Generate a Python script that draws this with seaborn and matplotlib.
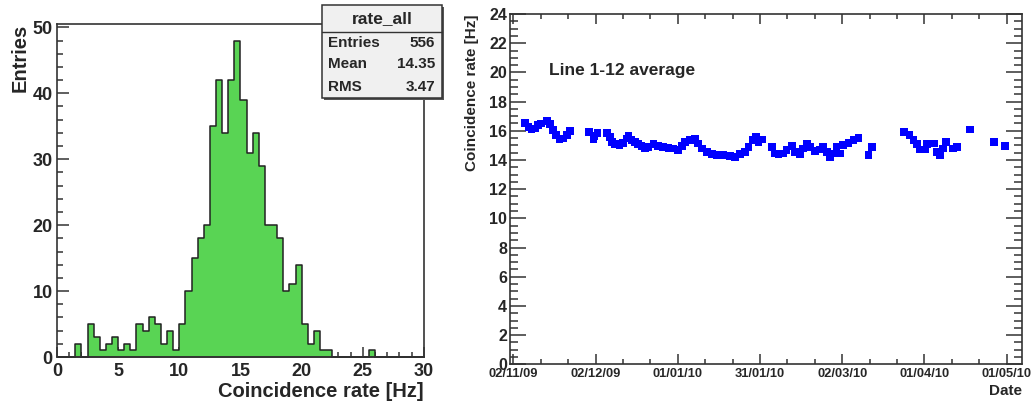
import matplotlib
matplotlib.use("Agg")
import matplotlib.dates as mdates
import pandas as pd
import seaborn as sns
from matplotlib import pyplot as plt
from matplotlib.patches import Rectangle
from matplotlib.ticker import MultipleLocator

# histogram of coincidence rate, 0.5 Hz bins from 0 to 30 Hz
bin_edges = [0.5 * k for k in range(61)]
rate_counts = [
    0, 0, 0, 2, 0, 5, 3, 1, 2, 3,
    1, 2, 1, 5, 4, 6, 5, 2, 4, 1,
    5, 10, 15, 18, 20, 35, 42, 34, 42, 48,
    39, 31, 34, 29, 20, 20, 18, 10, 11, 14,
    5, 2, 4, 1, 1, 0, 0, 0, 0, 0,
    0, 1, 0, 0, 0, 0, 0, 0, 0, 0,
]
stats_rows = [("Entries", "556"), ("Mean", "14.35"), ("RMS", "3.47")]

# daily averages, days counted from 02/11/09
start_date = "2009-11-02"
day_offset = [
    4.3, 5.5, 6.7, 7.9, 9.1, 10.0, 12.4, 13.4, 14.4, 15.6, 16.8, 18.2, 19.5, 20.7,
    27.7, 29.2, 29.5, 30.7, 34.1, 35.3, 36.0, 37.1, 38.7, 40.1, 41.4, 42.0, 43.2,
    44.4, 45.6, 46.8, 48.1, 49.3, 51.1, 52.9, 54.7, 56.6, 58.4, 60.2, 61.5, 62.7,
    64.5, 66.3, 67.5, 68.8, 70.6, 72.4, 74.2, 76.6, 79.1, 80.9, 82.7, 84.5, 85.8,
    87.4, 88.6, 89.5, 90.7, 94.3, 95.5, 96.7, 98.5, 99.7, 101.6, 102.8, 104.6,
    105.8, 107.1, 108.3, 110.1, 111.9, 113.1, 114.4, 115.6, 116.8, 118.0, 119.2,
    120.4, 122.3, 124.1, 125.9, 129.6, 130.8, 142.6, 144.5, 146.0, 147.2, 148.4,
    150.3, 150.9, 153.5, 154.7, 155.7, 156.7, 157.9, 160.4, 161.8, 166.7, 175.4,
    179.5,
]
daily_rate = [
    16.55, 16.27, 16.09, 16.16, 16.39, 16.5, 16.69, 16.46, 16.05, 15.7, 15.4, 15.47, 15.7, 16.0,
    15.9, 15.4, 15.65, 15.85, 15.86, 15.59, 15.25, 15.09, 15.02, 15.18, 15.48, 15.64, 15.36,
    15.25, 15.09, 14.95, 14.79, 14.9, 15.09, 14.95, 14.9, 14.84, 14.79, 14.68, 14.95, 15.25,
    15.36, 15.48, 15.14, 14.79, 14.56, 14.4, 14.34, 14.34, 14.27, 14.22, 14.4, 14.56, 14.9,
    15.36, 15.59, 15.25, 15.4, 14.9, 14.45, 14.4, 14.45, 14.68, 14.95, 14.56, 14.4,
    14.79, 15.09, 14.9, 14.63, 14.72, 14.9, 14.56, 14.22, 14.45, 14.9, 14.45,
    15.02, 15.18, 15.36, 15.52, 14.34, 14.9, 15.93, 15.7, 15.36, 15.09, 14.72,
    14.72, 15.09, 15.14, 14.56, 14.34, 14.79, 15.25, 14.79, 14.9, 16.1, 15.25,
    14.95,
]

sns.set_style("ticks")
plt.rcParams["font.family"] = ["Liberation Sans", "DejaVu Sans"]
plt.rcParams["font.weight"] = "bold"
plt.rcParams["axes.edgecolor"] = "#333333"
plt.rcParams["axes.linewidth"] = 1.2

fig = plt.figure(figsize=(10.32, 4.05), dpi=100)
ax_h = fig.add_axes([0.0552, 0.1185, 0.3556, 0.8222])
ax_t = fig.add_axes([0.4942, 0.1005, 0.4958, 0.8649])

# ---- left: histogram
centers = [e + 0.25 for e in bin_edges[:-1]]
hist_df = pd.DataFrame({"rate": centers, "n": rate_counts})
sns.histplot(data=hist_df, x="rate", weights="n", bins=bin_edges, element="step",
             fill=True, color="#59d454", alpha=1.0, edgecolor="#222222",
             linewidth=1.1, ax=ax_h)
ax_h.set_xlim(0, 30)
ax_h.set_ylim(0, 50.5)
ax_h.xaxis.set_major_locator(MultipleLocator(5))
ax_h.xaxis.set_minor_locator(MultipleLocator(1))
ax_h.yaxis.set_major_locator(MultipleLocator(10))
ax_h.yaxis.set_minor_locator(MultipleLocator(2))
ax_h.tick_params(axis="both", which="both", direction="in", labelsize=13,
                 color="#333333", width=1.1)
ax_h.tick_params(axis="y", which="major", length=8.5, pad=3)
ax_h.tick_params(axis="y", which="minor", length=4.3)
ax_h.tick_params(axis="x", which="major", length=7.5, pad=4)
ax_h.tick_params(axis="x", which="minor", length=3.8)
for lab in ax_h.get_xticklabels() + ax_h.get_yticklabels():
    lab.set_fontweight("bold")
ax_h.set_xlabel("Coincidence rate [Hz]", fontsize=14.5, fontweight="bold", loc="right")
ax_h.set_ylabel("Entries", fontsize=14.5, fontweight="bold", loc="top")
ax_h.xaxis.set_label_coords(1.0, -0.075)
ax_h.yaxis.set_label_coords(-0.074, 1.0)

# stats box
shadow = Rectangle((0.3140, 0.7530), 0.1163, 0.2296, transform=fig.transFigure,
                   facecolor="#555555", edgecolor="none", zorder=9)
box = Rectangle((0.3120, 0.7580), 0.1163, 0.2296, transform=fig.transFigure,
                facecolor="#f0f0f0", edgecolor="#333333", linewidth=1.1, zorder=10)
fig.add_artist(shadow)
fig.add_artist(box)
fig.add_artist(plt.Line2D([0.3120, 0.4283], [0.921, 0.921], transform=fig.transFigure,
                          color="#333333", linewidth=1.0, zorder=11))
fig.text(0.3702, 0.953, "rate_all", ha="center", va="center", fontsize=12.5,
         fontweight="bold", zorder=12)
for (name, val), yy in zip(stats_rows, [0.895, 0.841, 0.784]):
    fig.text(0.318, yy, name, ha="left", va="center", fontsize=11,
             fontweight="bold", zorder=12)
    fig.text(0.4215, yy, val, ha="right", va="center", fontsize=11,
             fontweight="bold", zorder=12)

# ---- right: time series
ts_df = pd.DataFrame({
    "date": pd.Timestamp(start_date) + pd.to_timedelta(day_offset, unit="D"),
    "rate": daily_rate,
})
sns.scatterplot(data=ts_df, x="date", y="rate", marker="s", s=30, color="#0000ff",
                edgecolor="none", linewidth=0, ax=ax_t)
t0 = pd.Timestamp(start_date)
ax_t.set_xlim(t0 - pd.Timedelta(days=1.2), t0 + pd.Timedelta(days=185.5))
ax_t.set_ylim(0, 24)
major_dates = [t0 + pd.Timedelta(days=30 * k) for k in range(7)]
minor_dates = [t0 + pd.Timedelta(days=10 * k) for k in range(19)]
ax_t.set_xticks(major_dates)
ax_t.set_xticks(minor_dates, minor=True)
ax_t.xaxis.set_major_formatter(mdates.DateFormatter("%d/%m/%y"))
ax_t.yaxis.set_major_locator(MultipleLocator(2))
ax_t.yaxis.set_minor_locator(MultipleLocator(0.5))
ax_t.tick_params(axis="both", which="both", direction="in", color="#333333",
                 width=1.1, top=True, right=True)
ax_t.tick_params(axis="y", which="major", length=11.5, pad=2, labelsize=11.5)
ax_t.tick_params(axis="y", which="minor", length=5.8)
ax_t.tick_params(axis="x", which="major", length=7, pad=3, labelsize=9.3)
ax_t.tick_params(axis="x", which="minor", length=3.6)
for lab in ax_t.get_xticklabels() + ax_t.get_yticklabels():
    lab.set_fontweight("bold")
ax_t.set_xlabel("Date", fontsize=11, fontweight="bold", loc="right")
ax_t.set_ylabel("Coincidence rate [Hz]", fontsize=11, fontweight="bold", loc="top")
ax_t.xaxis.set_label_coords(1.0, -0.057)
ax_t.yaxis.set_label_coords(-0.060, 1.0)
ax_t.text(0.076, 0.84, "Line 1-12 average", transform=ax_t.transAxes, ha="left",
          va="center", fontsize=12.5, fontweight="bold")

fig.savefig("out.png", dpi=100)
